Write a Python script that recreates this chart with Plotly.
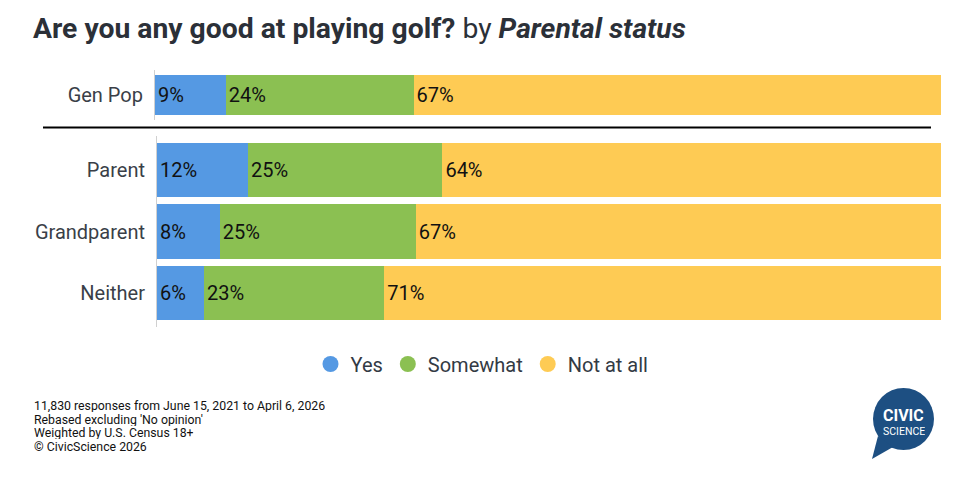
import plotly.graph_objects as go

W, H = 950, 464   # figure size; page adds an 8px body margin
OFF = 8

series = ["Yes", "Somewhat", "Not at all"]
colors = ["#5599e3", "#8bc052", "#fecb54"]

top_cats = ["Gen Pop"]
top_vals = {"Yes": [9.0], "Somewhat": [23.9], "Not at all": [67.1]}

bot_cats = ["Parent", "Grandparent", "Neither"]
bot_vals = {
    "Yes": [11.6, 8.0, 6.0],
    "Somewhat": [24.8, 25.0, 23.0],
    "Not at all": [63.6, 67.0, 71.0],
}

title_main = "Are you any good at playing golf?"
title_by = "Parental status"
notes = [
    "11,830 responses from June 15, 2021 to April 6, 2026",
    "Rebased excluding 'No opinion'",
    "Weighted by U.S. Census 18+",
    "© CivicScience 2026",
]

FONT = "Roboto"
def px(x): return (x - OFF) / W
def py(y): return 1 - (y - OFF) / H

fig = go.Figure()
for s, c in zip(series, colors):
    fig.add_trace(go.Bar(
        y=top_cats, x=top_vals[s], orientation="h", name=s,
        marker=dict(color=c, line=dict(width=0)),
        text=top_vals[s], texttemplate="%{x:.0f}%", textposition="inside",
        insidetextanchor="start", textangle=0, constraintext="none",
        textfont=dict(family=FONT, size=20, color="#111111"),
        width=0.8, xaxis="x", yaxis="y", showlegend=False, hoverinfo="skip",
    ))
for s, c in zip(series, colors):
    fig.add_trace(go.Bar(
        y=bot_cats, x=bot_vals[s], orientation="h", name=s,
        marker=dict(color=c, line=dict(width=0)),
        text=bot_vals[s], texttemplate="%{x:.0f}%", textposition="inside",
        insidetextanchor="start", textangle=0, constraintext="none",
        textfont=dict(family=FONT, size=20, color="#111111"),
        width=0.88, xaxis="x2", yaxis="y2", showlegend=False, hoverinfo="skip",
    ))
# legend entries (circle symbols)
for s, c in zip(series, colors):
    fig.add_trace(go.Scatter(
        x=[None], y=[None], mode="markers", name=s,
        marker=dict(symbol="circle", size=16, color=c),
        xaxis="x2", yaxis="y2", showlegend=True,
    ))

axis_common = dict(showgrid=False, zeroline=False, showticklabels=False, fixedrange=True)
fig.update_layout(
    width=W, height=H, autosize=False,
    margin=dict(l=0, r=0, t=0, b=0),
    paper_bgcolor="white", plot_bgcolor="white",
    barmode="stack",
    font=dict(family=FONT, color="#333a44"),
    xaxis=dict(domain=[px(155), px(941)], range=[0, 100], anchor="y", **axis_common),
    yaxis=dict(domain=[py(120), py(70)], anchor="x", showgrid=False, zeroline=False,
               showline=True, linecolor="#d0d0d0", linewidth=1,
               tickfont=dict(family=FONT, size=20, color="#3a3f48"),
               ticks="", ticklabelstandoff=7, range=[-0.5, 0.5]),
    xaxis2=dict(domain=[px(157), px(941)], range=[0, 100], anchor="y2", **axis_common),
    yaxis2=dict(domain=[py(327), py(136)], anchor="x2", showgrid=False, zeroline=False,
                showline=True, linecolor="#d0d0d0", linewidth=1,
                tickfont=dict(family=FONT, size=20, color="#3a3f48"),
                ticks="", ticklabelstandoff=7,
                categoryorder="array", categoryarray=bot_cats, range=[2.55, -0.55]),
    legend=dict(orientation="h", x=px(482), xanchor="center", y=py(364), yanchor="middle",
                traceorder="normal", itemwidth=30, tracegroupgap=0,
                font=dict(family=FONT, size=20, color="#333a44"),
                itemclick=False, itemdoubleclick=False, bgcolor="rgba(0,0,0,0)"),
    showlegend=True,
)

# title
fig.add_annotation(
    x=px(31), y=py(29), xref="paper", yref="paper", xanchor="left", yanchor="middle",
    text=f"<b>{title_main}</b> by <b><i>{title_by}</i></b>", showarrow=False,
    font=dict(family=FONT, size=28.3, color="#2b3038"),
)

# separator line
fig.add_shape(type="line", xref="paper", yref="paper",
              x0=px(43), x1=px(931), y0=py(127.5), y1=py(127.5),
              line=dict(color="#000000", width=2))

# footnotes, one per line
for i, line in enumerate(notes):
    fig.add_annotation(
        x=px(31.5), y=py(405.5 + i * 13.6), xref="paper", yref="paper",
        xanchor="left", yanchor="middle", align="left", text=line, showarrow=False,
        height=13, font=dict(family=FONT, size=12.3, color="#111111"),
    )

# logo
logo = "#1d4f82"
fig.add_shape(type="circle", xref="paper", yref="paper", layer="below",
              x0=px(873), x1=px(934), y0=py(450), y1=py(388),
              fillcolor=logo, line=dict(width=0))
fig.add_shape(type="path", xref="paper", yref="paper", layer="below",
              path=f"M {px(878)},{py(436)} L {px(872)},{py(459)} L {px(893)},{py(447)} Z",
              fillcolor=logo, line=dict(width=0))
fig.add_annotation(x=px(903.5), y=py(415), xref="paper", yref="paper", text="<b>CIVIC</b>",
                   xanchor="center", yanchor="middle", height=12,
                   showarrow=False, font=dict(family=FONT, size=16, color="white"))
fig.add_annotation(x=px(903.5), y=py(431.5), xref="paper", yref="paper", text="SCIENCE",
                   xanchor="center", yanchor="middle", height=9,
                   showarrow=False, font=dict(family=FONT, size=10.5, color="white"))

fig.write_html("out.html")
